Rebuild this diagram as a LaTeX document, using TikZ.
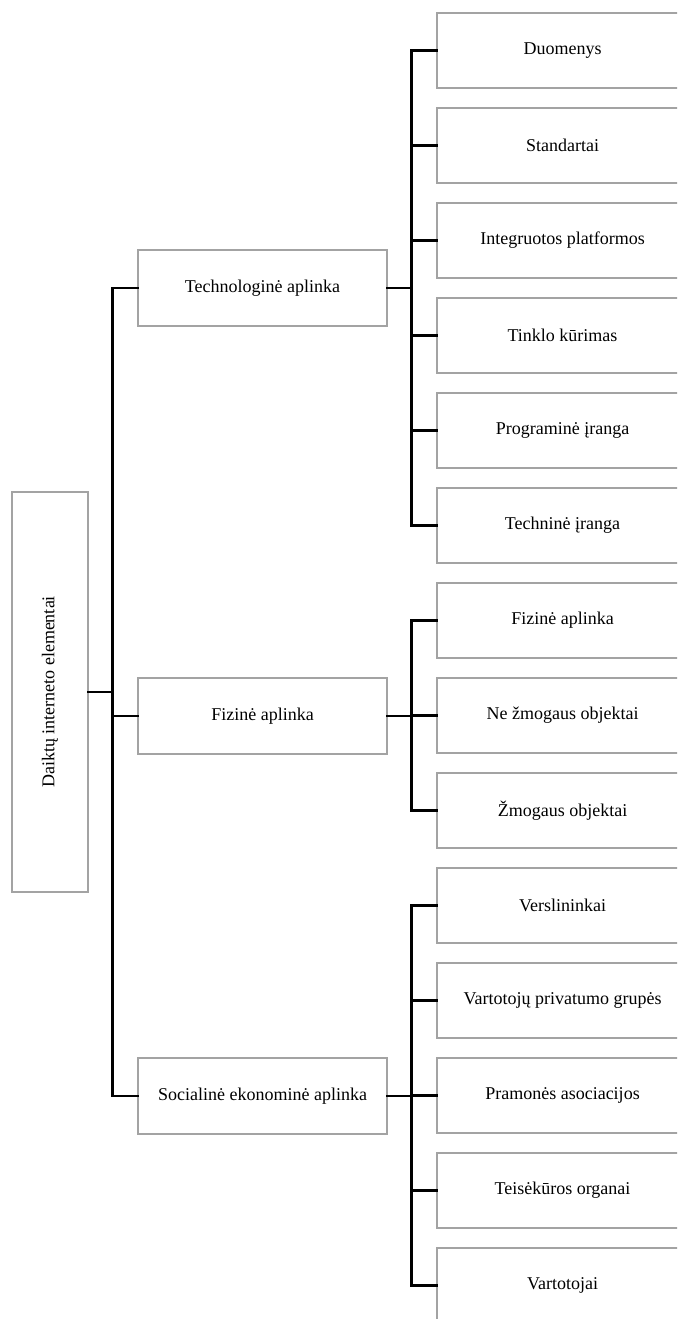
\documentclass[tikz,border=0pt]{standalone}
\usepackage{fontspec}
\setmainfont{Liberation Serif}
\usetikzlibrary{positioning}

\tikzset{
  box/.style={draw=gray!72, line width=1.3pt, fill=white, inner sep=0pt,
              font=\fontsize{18}{21}\selectfont},
  rootbox/.style={box, minimum width=76pt, minimum height=400pt},
  midbox/.style={box, minimum width=249pt, minimum height=76pt},
  leafbox/.style={box, minimum width=251pt, minimum height=75pt},
  conn/.style={draw=black, line width=2.6pt, line join=miter, line cap=rect},
}

\begin{document}
\begin{tikzpicture}[x=1pt, y=-1pt]
  \useasboundingbox (0,0) rectangle (677,1319);
  \fill[white] (0,0) rectangle (677,1319);
  \clip (0,0) rectangle (677,1319);

  % root
  \node[rootbox] (root) at (50,692) {};
  \node[rotate=90, font=\fontsize{18}{21}\selectfont] (roottxt) at (root.center) {Daiktų interneto elementai};

  % second level
  \node[midbox] (tech) at (262.5,288)  {Technologinė aplinka};
  \node[midbox] (fiz)  at (262.5,716)  {Fizinė aplinka};
  \node[midbox] (soc)  at (262.5,1096) {Socialinė ekonominė aplinka};

  % leaves: technological environment
  \node[leafbox] (t1) at (562.5,50.5)  {Duomenys};
  \node[leafbox] (t2) at (562.5,145.5) {Standartai};
  \node[leafbox] (t3) at (562.5,240.5) {Integruotos platformos};
  \node[leafbox] (t4) at (562.5,335.5) {Tinklo kūrimas};
  \node[leafbox] (t5) at (562.5,430.5) {Programinė įranga};
  \node[leafbox] (t6) at (562.5,525.5) {Techninė įranga};

  % leaves: physical environment
  \node[leafbox] (f1) at (562.5,620.5) {Fizinė aplinka};
  \node[leafbox] (f2) at (562.5,715.5) {Ne žmogaus objektai};
  \node[leafbox] (f3) at (562.5,810.5) {Žmogaus objektai};

  % leaves: socio-economic environment
  \node[leafbox] (s1) at (562.5,905.5)  {Verslininkai};
  \node[leafbox] (s2) at (562.5,1000.5) {Vartotojų privatumo grupės};
  \node[leafbox] (s3) at (562.5,1095.5) {Pramonės asociacijos};
  \node[leafbox] (s4) at (562.5,1190.5) {Teisėkūros organai};
  \node[leafbox] (s5) at (562.5,1285.5) {Vartotojai};

  % connectors: root to second level
  \foreach \n in {tech,fiz,soc}
    \draw[conn] (\n.west) -- ++(-25,0) |- (root.east);

  % connectors: second level to leaves
  \foreach \n in {t1,t2,t3,t4,t5,t6}
    \draw[conn] (\n.west) -- ++(-25,0) |- (tech.east);
  \foreach \n in {f1,f2,f3}
    \draw[conn] (\n.west) -- ++(-25,0) |- (fiz.east);
  \foreach \n in {s1,s2,s3,s4,s5}
    \draw[conn] (\n.west) -- ++(-25,0) |- (soc.east);
\end{tikzpicture}
\end{document}
